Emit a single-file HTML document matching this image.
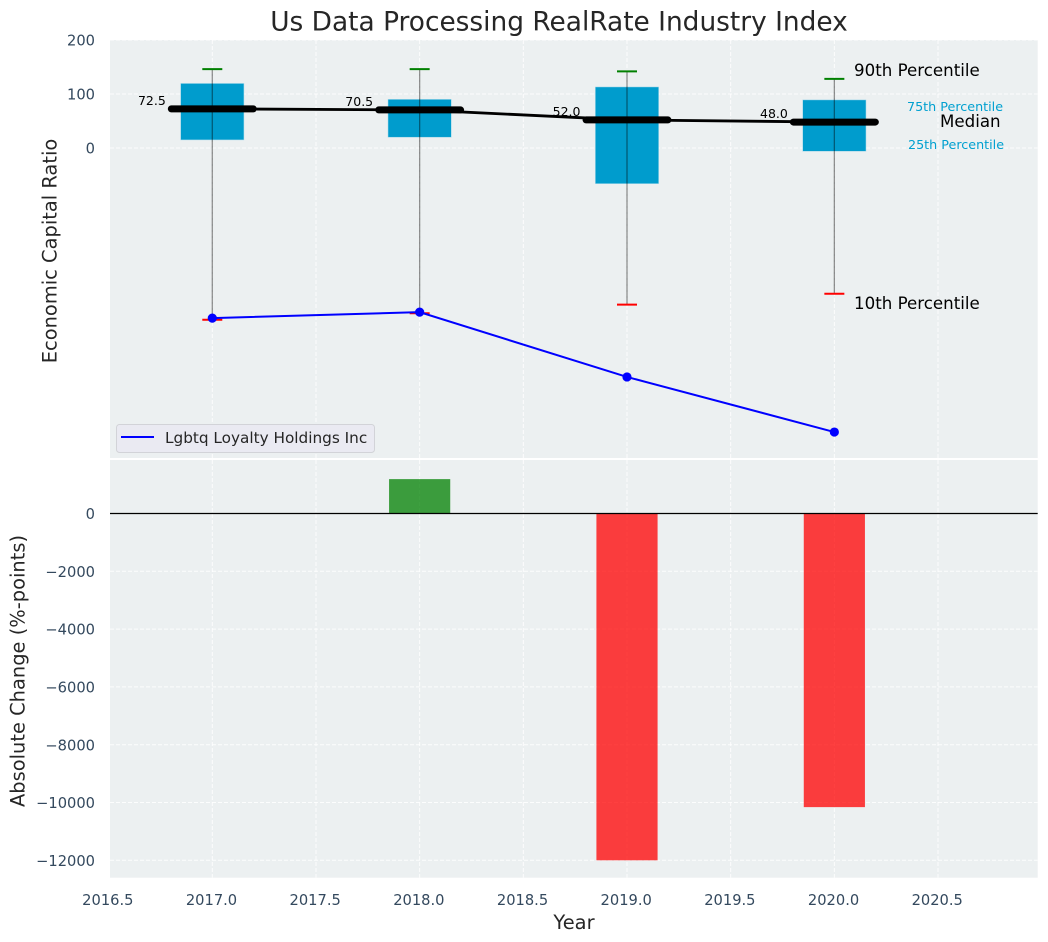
<!DOCTYPE html>
<html>
<head>
<meta charset="utf-8">
<title>Us Data Processing RealRate Industry Index</title>
<style>
html,body{margin:0;padding:0;background:#fff;width:1048px;height:942px;overflow:hidden}
svg{display:block}
text{font-family:"DejaVu Sans","Liberation Sans",sans-serif}
</style>
</head>
<body>
<svg id="chart" xmlns="http://www.w3.org/2000/svg" width="1048" height="942" viewBox="0 0 1048 942"></svg>
<script>
const years = [2017, 2018, 2019, 2020];
const p90 = [146, 146, 142, 128];
const p75 = [119.5, 90, 113, 89];
const medians = [72.5, 70.5, 52, 48];
const medianLabels = ['72.5', '70.5', '52.0', '48.0'];
const p25 = [15, 20, -66, -6];
const p10 = [-318, -306, -290, -270];
const companyValues = [-315, -304, -424, -526];
const changeValues = [0, 1190, -12000, -10160];
const xTicks = [2016.5, 2017, 2017.5, 2018, 2018.5, 2019, 2019.5, 2020, 2020.5];
const xTickLabels = ['2016.5', '2017.0', '2017.5', '2018.0', '2018.5', '2019.0', '2019.5', '2020.0', '2020.5'];
const topTicks = [200, 100, 0];
const topTickLabels = ['200', '100', '0'];
const bottomTicks = [0, -2000, -4000, -6000, -8000, -10000, -12000];
const bottomTickLabels = ['0', '\u22122000', '\u22124000', '\u22126000', '\u22128000', '\u221210000', '\u221212000'];

const svg = document.getElementById('chart');
const NS = 'http://www.w3.org/2000/svg';
const LEFT = 110, RIGHT = 1037.7;
const TOP1 = 40, BOT1 = 458, TOP2 = 460, BOT2 = 877.7;
const x = v => 212.3 + (v - 2017) * 207.35;
const yTop = v => 148 - v * 0.54;
const yBot = v => 513.5 - v * 0.0289;
const BOX_W = 0.305, BAR_W = 0.295, MED_HALF = 0.2;

function make(tag, attrs, text) {
  const el = document.createElementNS(NS, tag);
  for (const k in attrs) el.setAttribute(k, attrs[k]);
  if (text !== undefined) el.textContent = text;
  svg.appendChild(el);
  return el;
}
function hline(x1, x2, y, stroke, w, extra) {
  return make('line', Object.assign({x1: x1, x2: x2, y1: y, y2: y, stroke: stroke, 'stroke-width': w}, extra || {}));
}
function vline(xp, y1, y2, stroke, w, extra) {
  return make('line', Object.assign({x1: xp, x2: xp, y1: y1, y2: y2, stroke: stroke, 'stroke-width': w}, extra || {}));
}
const dash = {'stroke-dasharray': '4 2', 'stroke-opacity': 0.85};
let el;

el = make('rect', {x: LEFT, y: TOP1, width: RIGHT - LEFT, height: BOT1 - TOP1, fill: '#ecf0f1'});


el = make('rect', {x: LEFT, y: TOP2, width: RIGHT - LEFT, height: BOT2 - TOP2, fill: '#ecf0f1'});



xTicks.forEach((t, i) => {
  if (x(t) >= LEFT) {
    let g = vline(x(t), TOP1, BOT1, '#fff', 1, dash);
    
    
    g = vline(x(t), TOP2, BOT2, '#fff', 1, dash);
    
    
  }
  const lab = make('text', {x: x(t) - 0.8, y: 905, 'text-anchor': 'middle', 'font-size': 14.67, fill: '#34495e'}, xTickLabels[i]);
  
  
});
topTicks.forEach((t, i) => {
  const g = hline(LEFT, RIGHT, yTop(t), '#fff', 1, dash);
  
  
  const lab = make('text', {x: 95, y: yTop(t) + 5.3, 'text-anchor': 'end', 'font-size': 14.67, fill: '#34495e'}, topTickLabels[i]);
  
  
});
bottomTicks.forEach((t, i) => {
  const g = hline(LEFT, RIGHT, yBot(t), '#fff', 1, dash);
  
  
  const lab = make('text', {x: 95, y: yBot(t) + 5.6, 'text-anchor': 'end', 'font-size': 14.67, fill: '#34495e'}, bottomTickLabels[i]);
  
  
});

years.forEach((yr, i) => {
  const box = make('rect', {
    x: x(yr - BOX_W / 2), y: yTop(p75[i]),
    width: x(yr + BOX_W / 2) - x(yr - BOX_W / 2),
    height: yTop(p25[i]) - yTop(p75[i]),
    fill: '#009ccd', stroke: '#9fd6e8', 'stroke-width': 0.5
  });
  
  
  const wh = vline(x(yr), yTop(p90[i]), yTop(p10[i]), '#000', 1.3, {opacity: 0.42});
  
  
  const capHi = hline(x(yr) - 10, x(yr) + 10, yTop(p90[i]), 'green', 2);
  
  
  const capLo = hline(x(yr) - 10, x(yr) + 10, yTop(p10[i]), 'red', 2);
  
  
});

const medianLine = make('polyline', {
  points: years.map((yr, i) => x(yr) + ',' + yTop(medians[i])).join(' '),
  fill: 'none', stroke: '#000', 'stroke-width': 2.8
});


years.forEach((yr, i) => {
  const seg = hline(x(yr - MED_HALF) + 0.5, x(yr + MED_HALF) - 0.5, yTop(medians[i]), '#000', 7, {'stroke-linecap': 'round'});
  
  
  const lab = make('text', {x: x(yr) - 46.5, y: yTop(medians[i]) - 4, 'text-anchor': 'end', 'font-size': 12.5, fill: '#000'}, medianLabels[i]);
  
  
});

const companyLine = make('polyline', {
  points: years.map((yr, i) => x(yr) + ',' + yTop(companyValues[i])).join(' '),
  fill: 'none', stroke: '#0000ff', 'stroke-width': 2
});


years.forEach((yr, i) => {
  const pt = make('circle', {cx: x(yr), cy: yTop(companyValues[i]), r: 4.6, fill: '#0000ff'});
  
  
});

years.forEach((yr, i) => {
  const v = changeValues[i];
  if (v === 0) return;
  const bar = make('rect', {
    x: x(yr - BAR_W / 2), y: Math.min(yBot(v), yBot(0)),
    width: x(yr + BAR_W / 2) - x(yr - BAR_W / 2),
    height: Math.abs(yBot(v) - yBot(0)),
    fill: v > 0 ? '#008000' : '#ff0000', 'fill-opacity': 0.75
  });
  
  
});
el = hline(LEFT, RIGHT, yBot(0), '#000', 1.3);



el = make('text', {x: 854, y: 76, 'font-size': 16.67, fill: '#000'}, '90th Percentile');


el = make('text', {x: 854, y: 309, 'font-size': 16.67, fill: '#000'}, '10th Percentile');


el = make('text', {x: 940, y: 127, 'font-size': 16.67, fill: '#000'}, 'Median');


el = make('text', {x: 907, y: 111, 'font-size': 12.73, fill: '#00a0d0'}, '75th Percentile');


el = make('text', {x: 908, y: 149, 'font-size': 12.73, fill: '#00a0d0'}, '25th Percentile');



el = make('rect', {x: 116.5, y: 424.5, width: 258, height: 28, rx: 3, fill: '#eaeaf2', stroke: '#d2d3d8', 'stroke-width': 1});


el = hline(121, 154, 437, '#0000ff', 2);


el = make('text', {x: 165, y: 443, 'font-size': 15.28, fill: '#262626'}, 'Lgbtq Loyalty Holdings Inc');



el = make('text', {x: 559, y: 30.5, 'text-anchor': 'middle', 'font-size': 26.4, fill: '#262626'}, 'Us Data Processing RealRate Industry Index');


el = make('text', {x: 574, y: 929, 'text-anchor': 'middle', 'font-size': 19.44, fill: '#262626'}, 'Year');


el = make('text', {x: 0, y: 0, 'text-anchor': 'middle', 'font-size': 19.44, fill: '#262626', transform: 'translate(56.5 251) rotate(-90)'}, 'Economic Capital Ratio');


el = make('text', {x: 0, y: 0, 'text-anchor': 'middle', 'font-size': 19.44, fill: '#262626', transform: 'translate(24.5 671) rotate(-90)'}, 'Absolute Change (%-points)');


</script>
</body>
</html>
